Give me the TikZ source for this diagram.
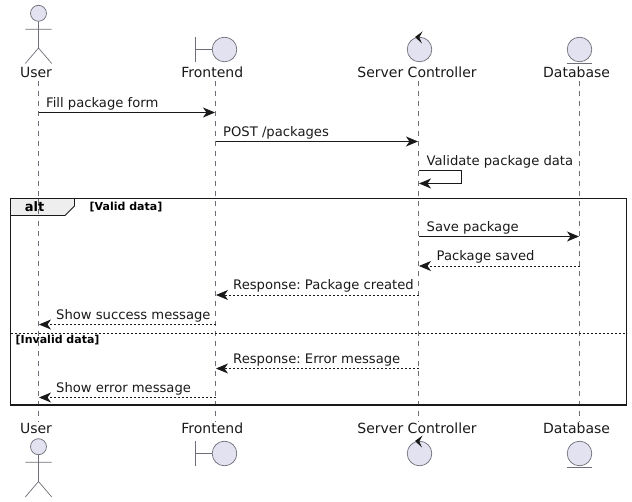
\documentclass[tikz,border=0pt]{standalone}
\usepackage{fontspec}
\setmainfont{DejaVu Sans}
\usetikzlibrary{arrows.meta}
\frenchspacing
\definecolor{partfill}{HTML}{E2E2F0}
\definecolor{partline}{HTML}{6E6E78}
\definecolor{lifecol}{HTML}{6E6E78}
\definecolor{tabfill}{HTML}{EEEEEE}
\tikzset{
 x=1pt,y=-1pt,
 lbl/.style={font=\fontsize{14}{16}\selectfont\frenchspacing,text=black!90,inner sep=0pt,anchor=base},
 msgt/.style={font=\fontsize{13.15}{15}\selectfont\frenchspacing,text=black!90,inner sep=0pt,anchor=base west},
 fr/.style={font=\bfseries\fontsize{11}{13}\selectfont,inner sep=0pt,anchor=base west},
 life/.style={draw=lifecol,line width=.5pt,dash pattern=on 5pt off 5pt},
 tipa/.tip={Stealth[length=12pt,width=10pt,inset=3.5pt]},
 msg/.style={draw=black!90,line width=1pt,-{tipa}},
 ret/.style={draw=black!90,line width=.8pt,dash pattern=on 2pt off 2pt,-{tipa}},
 orb/.style={circle,draw=partline,fill=partfill,line width=.7pt,minimum size=24.6pt,inner sep=0pt},
 head/.style={circle,draw=partline,fill=partfill,line width=.7pt,minimum size=16pt,inner sep=0pt},
 glyph/.style={draw=partline,line width=.7pt},
}
\begin{document}
\begin{tikzpicture}
\useasboundingbox (0,0) rectangle (632,502);
% lifeline ends
\coordinate (ut) at (38.5,81); \coordinate (ub) at (38.5,422);
\coordinate (ft) at (215.5,81); \coordinate (fb) at (215.5,422);
\coordinate (st) at (418.5,81); \coordinate (sb) at (418.5,422);
\coordinate (dt) at (579.5,81); \coordinate (db) at (579.5,422);
\draw[life] (ut)--(ub);
\draw[life] (ft)--(fb);
\draw[life] (st)--(sb);
\draw[life] (dt)--(db);
% labels
\node[lbl] (user) at (36,78) {User};
\node[lbl] (front) at (212.3,78) {Frontend};
\node[lbl] (serv) at (417,78) {Server Controller};
\node[lbl] (data) at (576.6,78) {Database};
\node[lbl] (user2) at (36,434) {User};
\node[lbl] (front2) at (212.3,434) {Frontend};
\node[lbl] (serv2) at (417,434) {Server Controller};
\node[lbl] (data2) at (576.6,434) {Database};
% actor top
\node[head] (uh) at (38.5,13.3) {};
\coordinate (ua1) at (25.3,29.3); \coordinate (ua2) at (51.7,29.3);
\coordinate (uw) at (38.5,48); \coordinate (ul1) at (25.3,63.5); \coordinate (ul2) at (51.7,63.5);
\draw[glyph] (uh)--(uw) (ua1)--(ua2) (ul1)--(uw)--(ul2);
% actor bottom
\node[head] (uhb) at (38.5,446.7) {};
\coordinate (ub1) at (25.3,462.3); \coordinate (ub2) at (51.7,462.3);
\coordinate (ubw) at (38.5,481.5); \coordinate (ubl1) at (25.3,497); \coordinate (ubl2) at (51.7,497);
\draw[glyph] (uhb)--(ubw) (ub1)--(ub2) (ubl1)--(ubw)--(ubl2);
% boundary
\node[orb] (bt) at (224.5,49.5) {};
\coordinate (bv1) at (195.5,37); \coordinate (bv2) at (195.5,62); \coordinate (bm) at (195.5,49.5);
\draw[glyph] (bv1)--(bv2) (bm)--(bt);
\node[orb] (bb) at (224.5,453.5) {};
\coordinate (bw1) at (195.5,441); \coordinate (bw2) at (195.5,466); \coordinate (bn) at (195.5,453.5);
\draw[glyph] (bw1)--(bw2) (bn)--(bb);
% control
\node[orb] (ct) at (419.5,49.5) {};
\node[orb] (cb) at (419.5,453.5) {};
\fill[black!90] (422.5,31.5) -- (415,37) -- (422,43.5) -- (419.3,37.5) -- cycle;
\fill[black!90] (422.5,435.5) -- (415,441) -- (422,447.5) -- (419.3,441.5) -- cycle;
% entity
\node[orb] (et) at (579.5,49.5) {};
\coordinate (e1) at (567,63); \coordinate (e2) at (592,63);
\draw[glyph] (e1)--(e2);
\node[orb] (eb) at (579.5,453.5) {};
\coordinate (e3) at (567,467); \coordinate (e4) at (592,467);
\draw[glyph] (e3)--(e4);
% frame
\coordinate (fa) at (10.5,198.5); \coordinate (fc) at (626.5,405);
\coordinate (t1) at (74.5,198.5); \coordinate (t2) at (74.5,206); \coordinate (t3) at (65,215.5); \coordinate (t4) at (10.5,215.5);
\draw[black!90,line width=.9pt,fill=tabfill] (fa)--(t1)--(t2)--(t3)--(t4)--cycle;
\draw[black!90,line width=1.7pt] (fa) rectangle (fc);
\draw[life] (38.5,199)--(38.5,215);
\node[font=\bfseries\fontsize{13}{15}\selectfont,inner sep=0pt,anchor=base] (alt) at (34.5,212) {alt};
\node[fr] (valid) at (89.5,211) {[Valid data]};
\coordinate (el) at (10.5,333.5); \coordinate (er) at (626.5,333.5);
\draw[black!90,line width=.7pt,dash pattern=on 2pt off 2pt] (el)--(er);
\node[fr] (invalid) at (15.5,344) {[Invalid data]};
% messages
\coordinate (m1a) at (38.5,112.5); \coordinate (m1b) at (215,112.5);
\draw[msg] (m1a)--(m1b);
\node[msgt] (m1) at (46,108) {Fill package form};
\coordinate (m2a) at (215.5,141.5); \coordinate (m2b) at (418,141.5);
\draw[msg] (m2a)--(m2b);
\node[msgt] (m2) at (223,137) {POST /packages};
\coordinate (m3a) at (418.5,170.5); \coordinate (m3c) at (461.5,170.5); \coordinate (m3d) at (461.5,183.5); \coordinate (m3b) at (419,183.5);
\draw[msg] (m3a)--(m3c)--(m3d)--(m3b);
\node[msgt] (m3) at (426.5,166) {Validate package data};
\coordinate (m4a) at (418.5,236.5); \coordinate (m4b) at (579,236.5);
\draw[msg] (m4a)--(m4b);
\node[msgt] (m4) at (426.5,232) {Save package};
\coordinate (m5a) at (579.5,266); \coordinate (m5b) at (419,266);
\draw[ret] (m5a)--(m5b);
\node[msgt] (m5) at (436.5,261) {Package saved};
\coordinate (m6a) at (418.5,295); \coordinate (m6b) at (216,295);
\draw[ret] (m6a)--(m6b);
\node[msgt] (m6) at (233,290) {Response: Package created};
\coordinate (m7a) at (215.5,324.5); \coordinate (m7b) at (39,324.5);
\draw[ret] (m7a)--(m7b);
\node[msgt] (m7) at (56,319.5) {Show success message};
\coordinate (m8a) at (418.5,368.5); \coordinate (m8b) at (216,368.5);
\draw[ret] (m8a)--(m8b);
\node[msgt] (m8) at (233,363.5) {Response: Error message};
\coordinate (m9a) at (215.5,397.5); \coordinate (m9b) at (39,397.5);
\draw[ret] (m9a)--(m9b);
\node[msgt] (m9) at (56,392.5) {Show error message};
\end{tikzpicture}
\end{document}
